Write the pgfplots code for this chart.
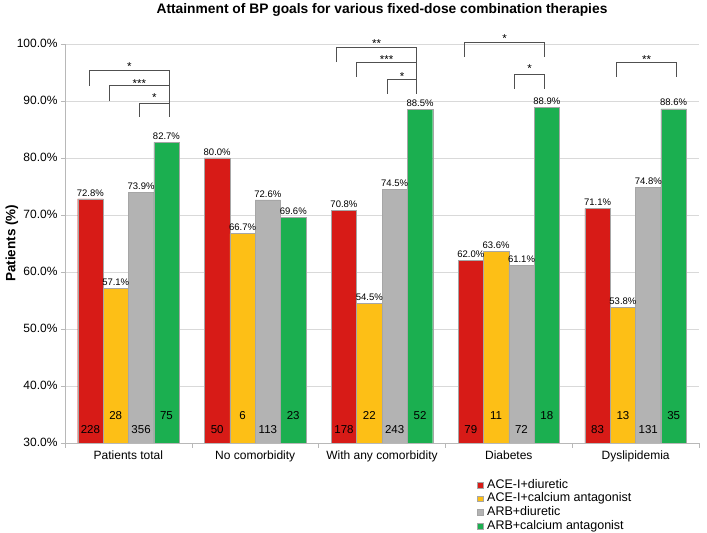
\documentclass[border=0pt]{standalone}
\usepackage{pgfplots}
\pgfplotsset{compat=1.18}
\usepackage{pgfplotstable}
\usepackage{fontspec}
\setmainfont{Liberation Sans}

\definecolor{cRed}{HTML}{D71B17}
\definecolor{cYel}{HTML}{FDBF16}
\definecolor{cGry}{HTML}{B3B3B3}
\definecolor{cGrn}{HTML}{1BAF50}
\definecolor{brk}{HTML}{505050}

\pgfplotstableread{
x red yel gry grn nred nyel ngry ngrn
0 72.8 57.1 73.9 82.7 228 28 356 75
1 80.0 66.7 72.6 69.6 50 6 113 23
2 70.8 54.5 74.5 88.5 178 22 243 52
3 62.0 63.6 61.1 88.9 79 11 72 18
4 71.1 53.8 74.8 88.6 83 13 131 35
}\data

\pgfplotsset{
  frame/.style={scale only axis, width=634pt, height=399pt,
    xmin=-0.5, xmax=4.5, ymin=30, ymax=100,
    ybar=0pt, bar width=25.36pt},
  overlay/.style={frame, at={(ax.south west)}, anchor=south west, hide axis,
    clip=false},
  invis/.style={draw=none, fill=none},
}

\begin{document}
\begin{tikzpicture}
\begin{axis}[
  name=ax, frame,
  clip mode=individual,
  axis lines=left,
  axis line style={-, draw=black!28, line width=0.6pt},
  tick align=outside,
  xtick={0,1,2,3,4},
  xticklabels={Patients total,No comorbidity,With any comorbidity,Diabetes,Dyslipidemia},
  minor xtick={-0.5,0.5,1.5,2.5,3.5,4.5},
  tick style={draw=black!28, line width=0.6pt},
  major x tick style={draw=none},
  minor tick length=5pt,
  major tick length=4pt,
  ytick={30,40,50,60,70,80,90,100},
  yticklabels={30.0\%,40.0\%,50.0\%,60.0\%,70.0\%,80.0\%,90.0\%,100.0\%},
  ymajorgrids,
  major grid style={draw=black!15, line width=0.6pt},
  ticklabel style={font=\fontsize{12}{14}\selectfont},
  /pgf/number format/assume math mode=true,
  title={Attainment of BP goals for various fixed-dose combination therapies},
  title style={at={(rel axis cs:0.5,1.0702)}, anchor=center, font=\fontsize{13.8}{15}\selectfont\bfseries},
  ylabel={Patients (\%)},
  ylabel style={at={(rel axis cs:-0.0836,0.5)}, anchor=center, font=\fontsize{13.5}{15}\selectfont\bfseries},
  legend style={at={(rel axis cs:0.65,-0.0877)}, anchor=north west, draw=none, fill=none,
    font=\fontsize{12.5}{13}\selectfont, inner sep=0pt, /tikz/column sep=3pt,
    nodes={inner sep=1pt, text height=9pt, text depth=2.7pt}},
  legend cell align=left,
  legend image code/.code={\draw[#1, line width=0.3pt] (0pt,-2.8pt) rectangle (5.6pt,2.8pt);},
]
\addplot[fill=cRed, draw=black!35, line width=0.3pt] table[x=x, y=red]{\data};
\addlegendentry{ACE-I+diuretic}
\addplot[fill=cYel, draw=black!35, line width=0.3pt] table[x=x, y=yel]{\data};
\addlegendentry{ACE-I+calcium antagonist}
\addplot[fill=cGry, draw=black!35, line width=0.3pt] table[x=x, y=gry]{\data};
\addlegendentry{ARB+diuretic}
\addplot[fill=cGrn, draw=black!35, line width=0.3pt] table[x=x, y=grn]{\data};
\addlegendentry{ARB+calcium antagonist}

% significance brackets
\begin{scope}[draw=brk, line width=1pt]
\draw (axis cs:-0.308,92.6) -- (axis cs:-0.308,95.3) -- (axis cs:0.324,95.3) -- (axis cs:0.324,87.2);
\draw (axis cs:-0.15,90.0) -- (axis cs:-0.15,92.6) -- (axis cs:0.324,92.6) -- (axis cs:0.324,87.2);
\draw (axis cs:0.087,87.2) -- (axis cs:0.087,89.6) -- (axis cs:0.324,89.6) -- (axis cs:0.324,87.2);
\draw (axis cs:1.642,96.8) -- (axis cs:1.642,99.3) -- (axis cs:2.273,99.3) -- (axis cs:2.273,91.2);
\draw (axis cs:1.80,94.2) -- (axis cs:1.80,96.7) -- (axis cs:2.273,96.7) -- (axis cs:2.273,91.2);
\draw (axis cs:2.044,91.2) -- (axis cs:2.044,93.7) -- (axis cs:2.273,93.7) -- (axis cs:2.273,91.2);
\draw (axis cs:2.652,97.7) -- (axis cs:2.652,100.3) -- (axis cs:3.283,100.3) -- (axis cs:3.283,97.7);
\draw (axis cs:3.047,92.1) -- (axis cs:3.047,94.6) -- (axis cs:3.283,94.6) -- (axis cs:3.283,92.1);
\draw (axis cs:3.85,94.2) -- (axis cs:3.85,96.7) -- (axis cs:4.325,96.7) -- (axis cs:4.325,94.2);
\end{scope}
\begin{scope}[every node/.style={anchor=base, inner sep=0pt, font=\fontsize{11.5}{12}\selectfont}]
\node at (axis cs:0.008,95.4) {*};
\node at (axis cs:0.087,92.4) {***};
\node at (axis cs:0.205,89.8) {*};
\node at (axis cs:1.957,99.4) {**};
\node at (axis cs:2.037,96.6) {***};
\node at (axis cs:2.158,93.5) {*};
\node at (axis cs:2.967,100.3) {*};
\node at (axis cs:3.165,94.9) {*};
\node at (axis cs:4.087,96.6) {**};
\end{scope}
\end{axis}

% percentage labels above bars
\begin{axis}[overlay,
  /pgf/number format/assume math mode=true,
  point meta=y,
  nodes near coords={\pgfmathprintnumber[fixed,fixed zerofill,precision=1]{\pgfplotspointmeta}\%},
  every node near coord/.append style={font=\fontsize{9.5}{10}\selectfont, inner sep=2.5pt},
]
\addplot[invis] table[x=x, y=red]{\data};
\addplot[invis] table[x=x, y=yel]{\data};
\addplot[invis] table[x=x, y=gry]{\data};
\addplot[invis] table[x=x, y=grn]{\data};
\end{axis}

% patient counts inside bars
\begin{axis}[overlay,
  point meta=explicit symbolic,
  nodes near coords,
  every node near coord/.append style={anchor=center, font=\fontsize{11.5}{12}\selectfont},
]
\addplot[invis] table[x=x, y expr=32.3, meta=nred]{\data};
\addplot[invis] table[x=x, y expr=34.8, meta=nyel]{\data};
\addplot[invis] table[x=x, y expr=32.3, meta=ngry]{\data};
\addplot[invis] table[x=x, y expr=34.8, meta=ngrn]{\data};
\end{axis}

\path ([shift={(-65pt,-90pt)}]ax.south west) rectangle ([shift={(8pt,40pt)}]ax.north east);
\end{tikzpicture}
\end{document}
